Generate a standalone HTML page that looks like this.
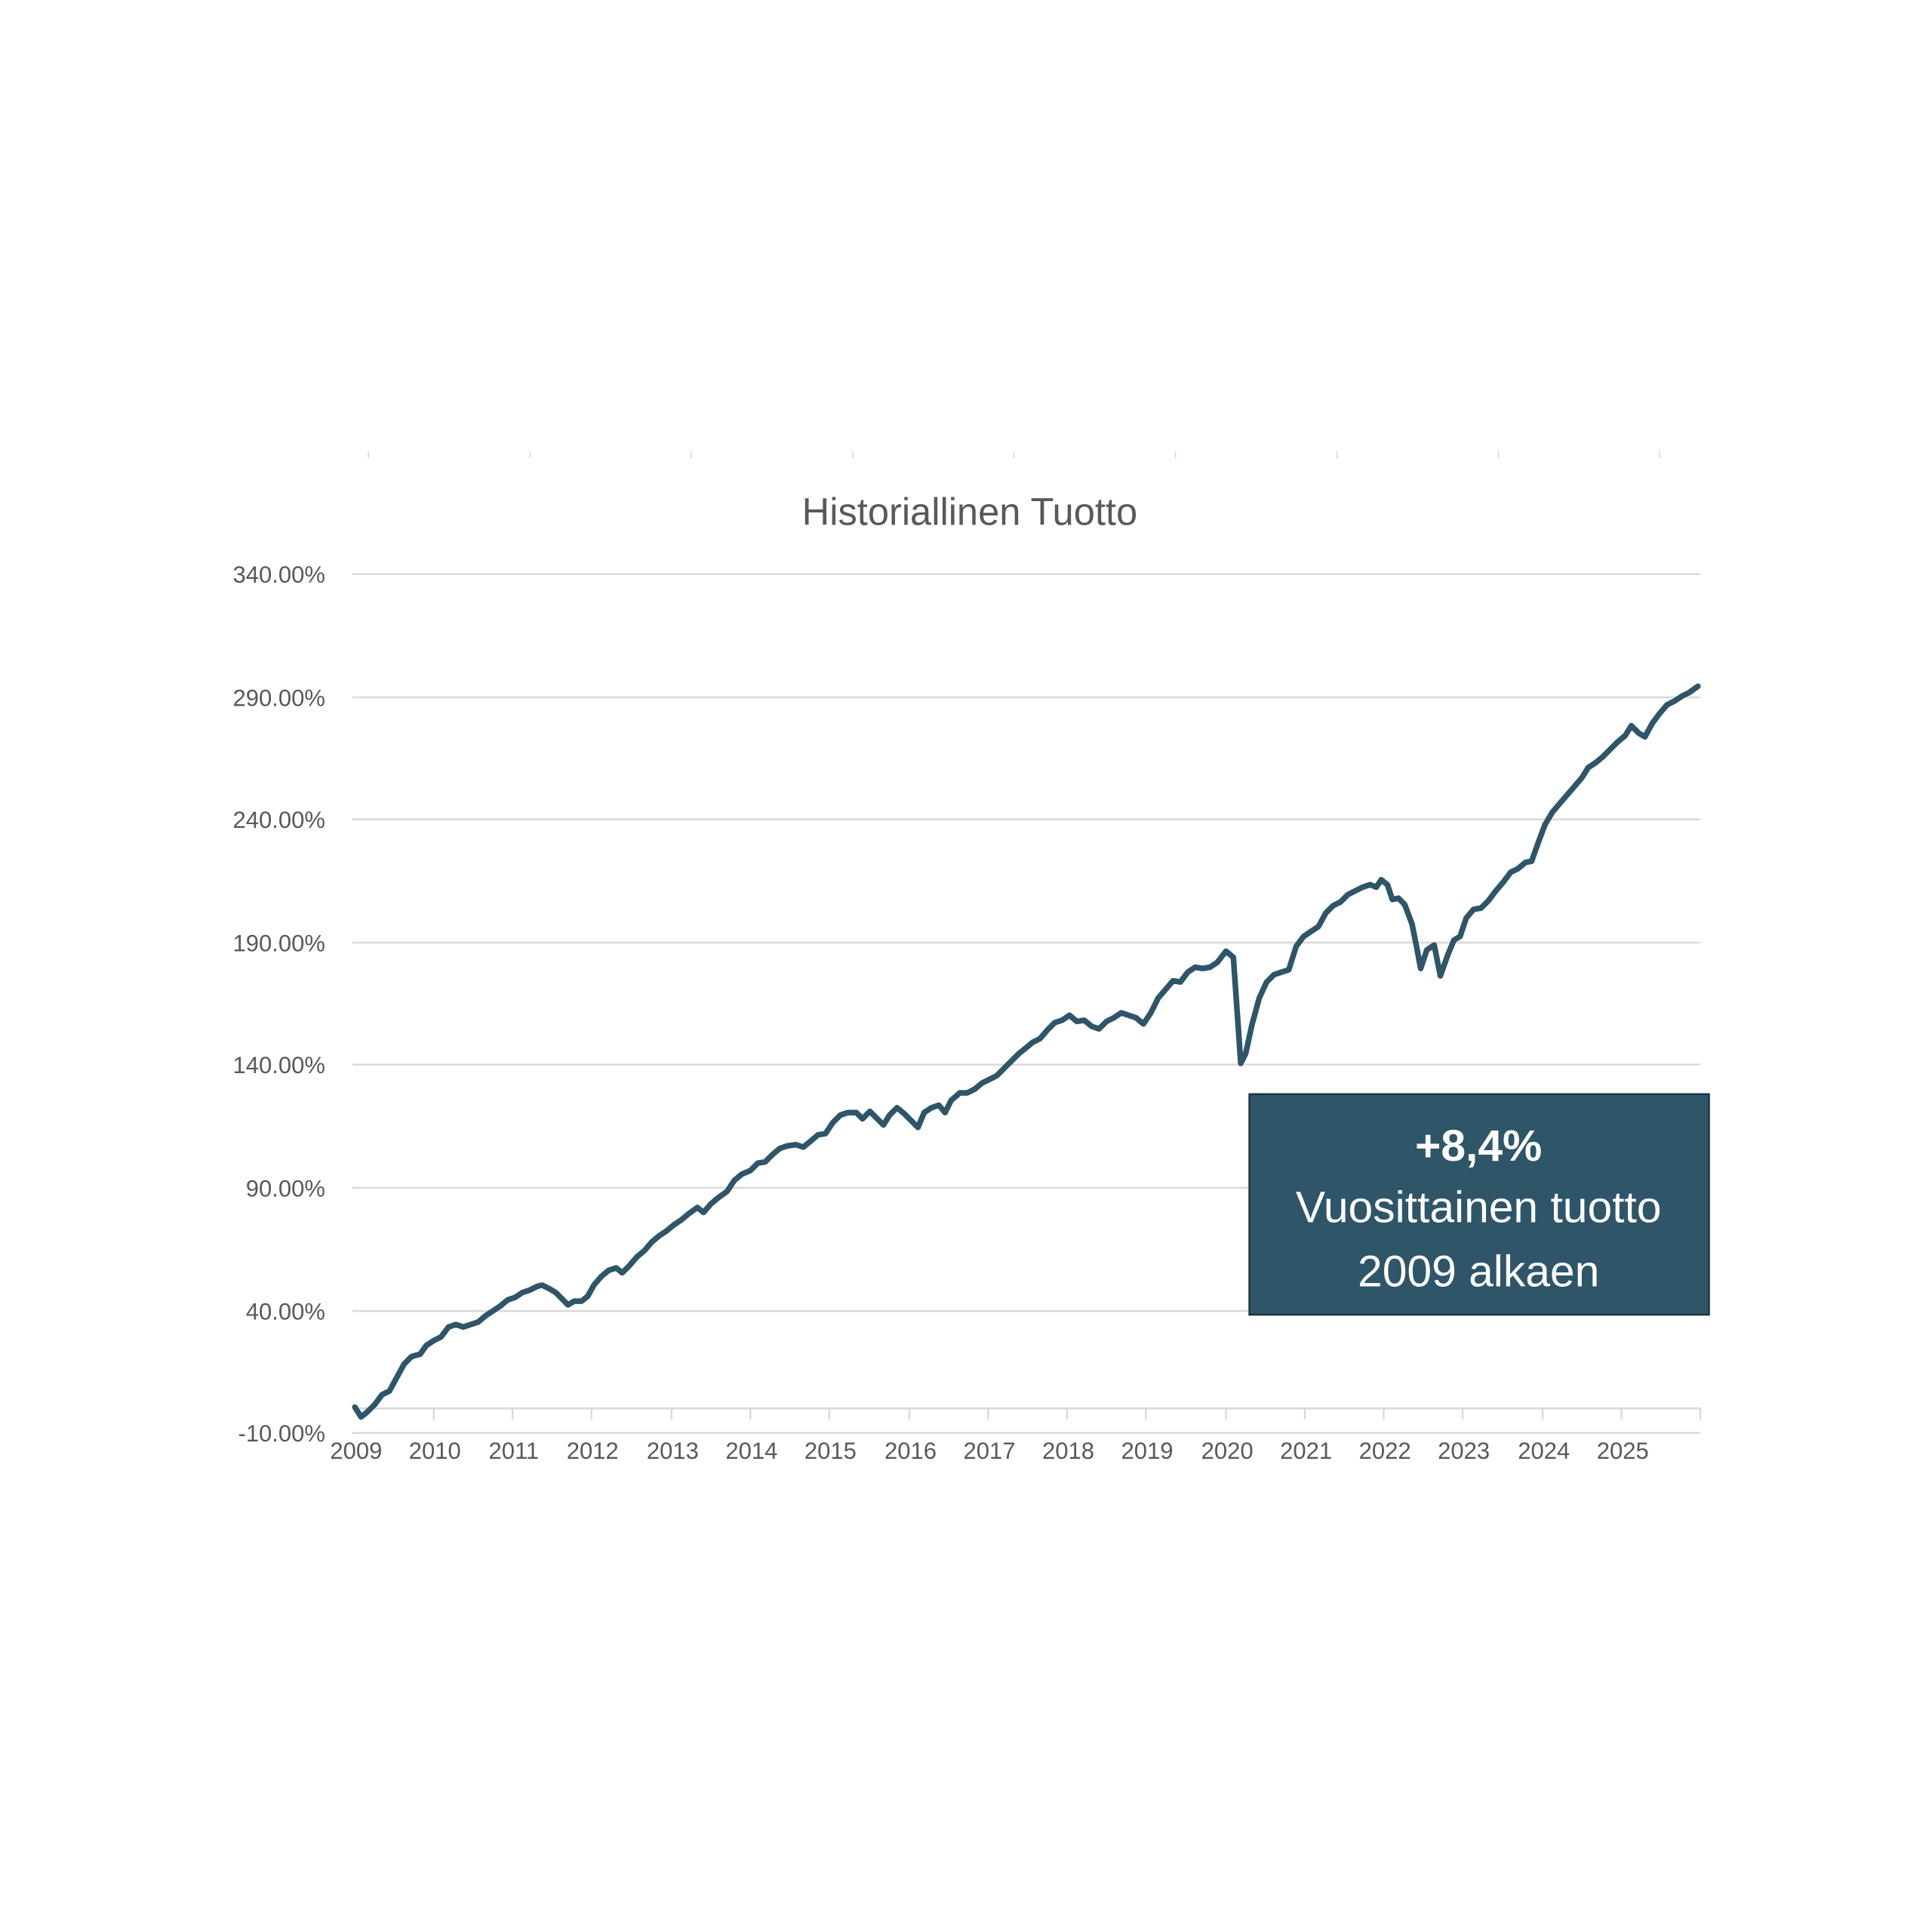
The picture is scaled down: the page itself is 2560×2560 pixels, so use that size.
<!DOCTYPE html>
<html><head><meta charset="utf-8"><style>
html,body{margin:0;padding:0;background:#fff;}
svg{display:block;}
text{font-family:"Liberation Sans",sans-serif;}
</style></head><body>
<svg width="2560" height="2560" viewBox="0 0 1568 1568" xmlns="http://www.w3.org/2000/svg">
<rect width="1568" height="1568" fill="#fff"/>
<g stroke="#d9d9d9" stroke-width="1">
<line x1="299" y1="366" x2="299" y2="372"/><line x1="430" y1="366" x2="430" y2="372"/><line x1="561" y1="366" x2="561" y2="372"/><line x1="692" y1="366" x2="692" y2="372"/><line x1="823" y1="366" x2="823" y2="372"/><line x1="954" y1="366" x2="954" y2="372"/><line x1="1085" y1="366" x2="1085" y2="372"/><line x1="1216" y1="366" x2="1216" y2="372"/><line x1="1347" y1="366" x2="1347" y2="372"/>
</g>
<text x="787" y="426" font-size="31" fill="#595959" text-anchor="middle">Historiallinen Tuotto</text>
<g stroke="#d9d9d9" stroke-width="1.5">
<line x1="286" y1="466" x2="1380" y2="466"/><line x1="286" y1="566" x2="1380" y2="566"/><line x1="286" y1="665" x2="1380" y2="665"/><line x1="286" y1="765" x2="1380" y2="765"/><line x1="286" y1="864" x2="1380" y2="864"/><line x1="286" y1="964" x2="1380" y2="964"/><line x1="286" y1="1064" x2="1380" y2="1064"/><line x1="286" y1="1163" x2="1380" y2="1163"/>
<line x1="286" y1="1143" x2="1380" y2="1143"/>
<line x1="352" y1="1143" x2="352" y2="1152"/><line x1="416" y1="1143" x2="416" y2="1152"/><line x1="480" y1="1143" x2="480" y2="1152"/><line x1="545" y1="1143" x2="545" y2="1152"/><line x1="609" y1="1143" x2="609" y2="1152"/><line x1="673" y1="1143" x2="673" y2="1152"/><line x1="738" y1="1143" x2="738" y2="1152"/><line x1="802" y1="1143" x2="802" y2="1152"/><line x1="866" y1="1143" x2="866" y2="1152"/><line x1="930" y1="1143" x2="930" y2="1152"/><line x1="995" y1="1143" x2="995" y2="1152"/><line x1="1059" y1="1143" x2="1059" y2="1152"/><line x1="1123" y1="1143" x2="1123" y2="1152"/><line x1="1187" y1="1143" x2="1187" y2="1152"/><line x1="1252" y1="1143" x2="1252" y2="1152"/><line x1="1316" y1="1143" x2="1316" y2="1152"/><line x1="1380" y1="1143" x2="1380" y2="1152"/>
</g>
<g font-size="19" fill="#595959" text-anchor="end">
<text x="264" y="473">340.00%</text><text x="264" y="573">290.00%</text><text x="264" y="672">240.00%</text><text x="264" y="772">190.00%</text><text x="264" y="871">140.00%</text><text x="264" y="971">90.00%</text><text x="264" y="1071">40.00%</text><text x="264" y="1170">-10.00%</text>
</g>
<g font-size="19" fill="#595959" text-anchor="middle">
<text x="289" y="1184">2009</text><text x="353" y="1184">2010</text><text x="417" y="1184">2011</text><text x="481" y="1184">2012</text><text x="546" y="1184">2013</text><text x="610" y="1184">2014</text><text x="674" y="1184">2015</text><text x="739" y="1184">2016</text><text x="803" y="1184">2017</text><text x="867" y="1184">2018</text><text x="931" y="1184">2019</text><text x="996" y="1184">2020</text><text x="1060" y="1184">2021</text><text x="1124" y="1184">2022</text><text x="1188" y="1184">2023</text><text x="1253" y="1184">2024</text><text x="1317" y="1184">2025</text>
</g>
<polyline fill="none" stroke="#2e5568" stroke-width="4.6" stroke-linejoin="round" stroke-linecap="round" points="288,1142 293,1150 298,1146 304,1140 310,1132 316,1129 322,1118 328,1107 334,1101 341,1099 346,1092 352,1088 358,1085 364,1077 370,1075 376,1077 382,1075 388,1073 394,1068 400,1064 406,1060 412,1055 418,1053 424,1049 430,1047 436,1044 440,1043 446,1046 451,1049 456,1054 461,1059 466,1056 472,1056 477,1052 482,1043 488,1036 494,1031 500,1029 505,1033 511,1027 517,1020 523,1015 529,1008 535,1003 541,999 547,994 553,990 559,985 566,980 571,984 577,977 583,972 590,967 596,958 602,953 609,950 615,944 621,943 627,937 633,932 639,930 646,929 652,931 658,926 664,921 670,920 676,911 682,905 688,903 695,903 700,908 706,902 712,908 717,913 722,905 728,899 734,904 740,910 745,915 750,903 756,899 762,897 767,903 772,893 779,887 785,887 791,884 797,879 803,876 809,873 815,867 821,861 827,855 832,851 838,846 844,843 850,836 856,830 862,828 868,824 874,829 880,828 886,833 892,835 898,829 904,826 910,822 916,824 922,826 928,831 934,822 940,810 946,803 952,796 958,797 964,789 970,785 976,786 982,785 988,781 995,772 1001,777 1004,820 1007,863 1011,855 1016,832 1022,810 1028,797 1034,791 1040,789 1046,787 1052,768 1058,760 1064,756 1070,752 1076,741 1082,735 1088,732 1094,726 1100,723 1106,720 1112,718 1117,720 1121,714 1126,718 1130,730 1135,729 1140,734 1146,750 1150,770 1153,786 1158,771 1164,767 1169,792 1175,775 1180,763 1185,760 1190,745 1196,738 1202,737 1208,731 1214,723 1220,716 1226,708 1232,705 1238,700 1243,699 1248,685 1254,669 1260,659 1266,652 1272,645 1278,638 1284,631 1289,623 1295,619 1301,614 1307,608 1313,602 1319,597 1324,589 1330,595 1335,598 1341,587 1347,579 1353,572 1359,569 1365,565 1371,562 1378,557"/>
<rect x="1014" y="888" width="373" height="179" fill="#2f5568" stroke="#1b3340" stroke-width="1.5"/>
<g fill="#fff" text-anchor="middle" font-size="36">
<text x="1200" y="942" font-weight="bold">+8,4%</text>
<text x="1200" y="992">Vuosittainen tuotto</text>
<text x="1200" y="1044">2009 alkaen</text>
</g>
</svg>
</body></html>
